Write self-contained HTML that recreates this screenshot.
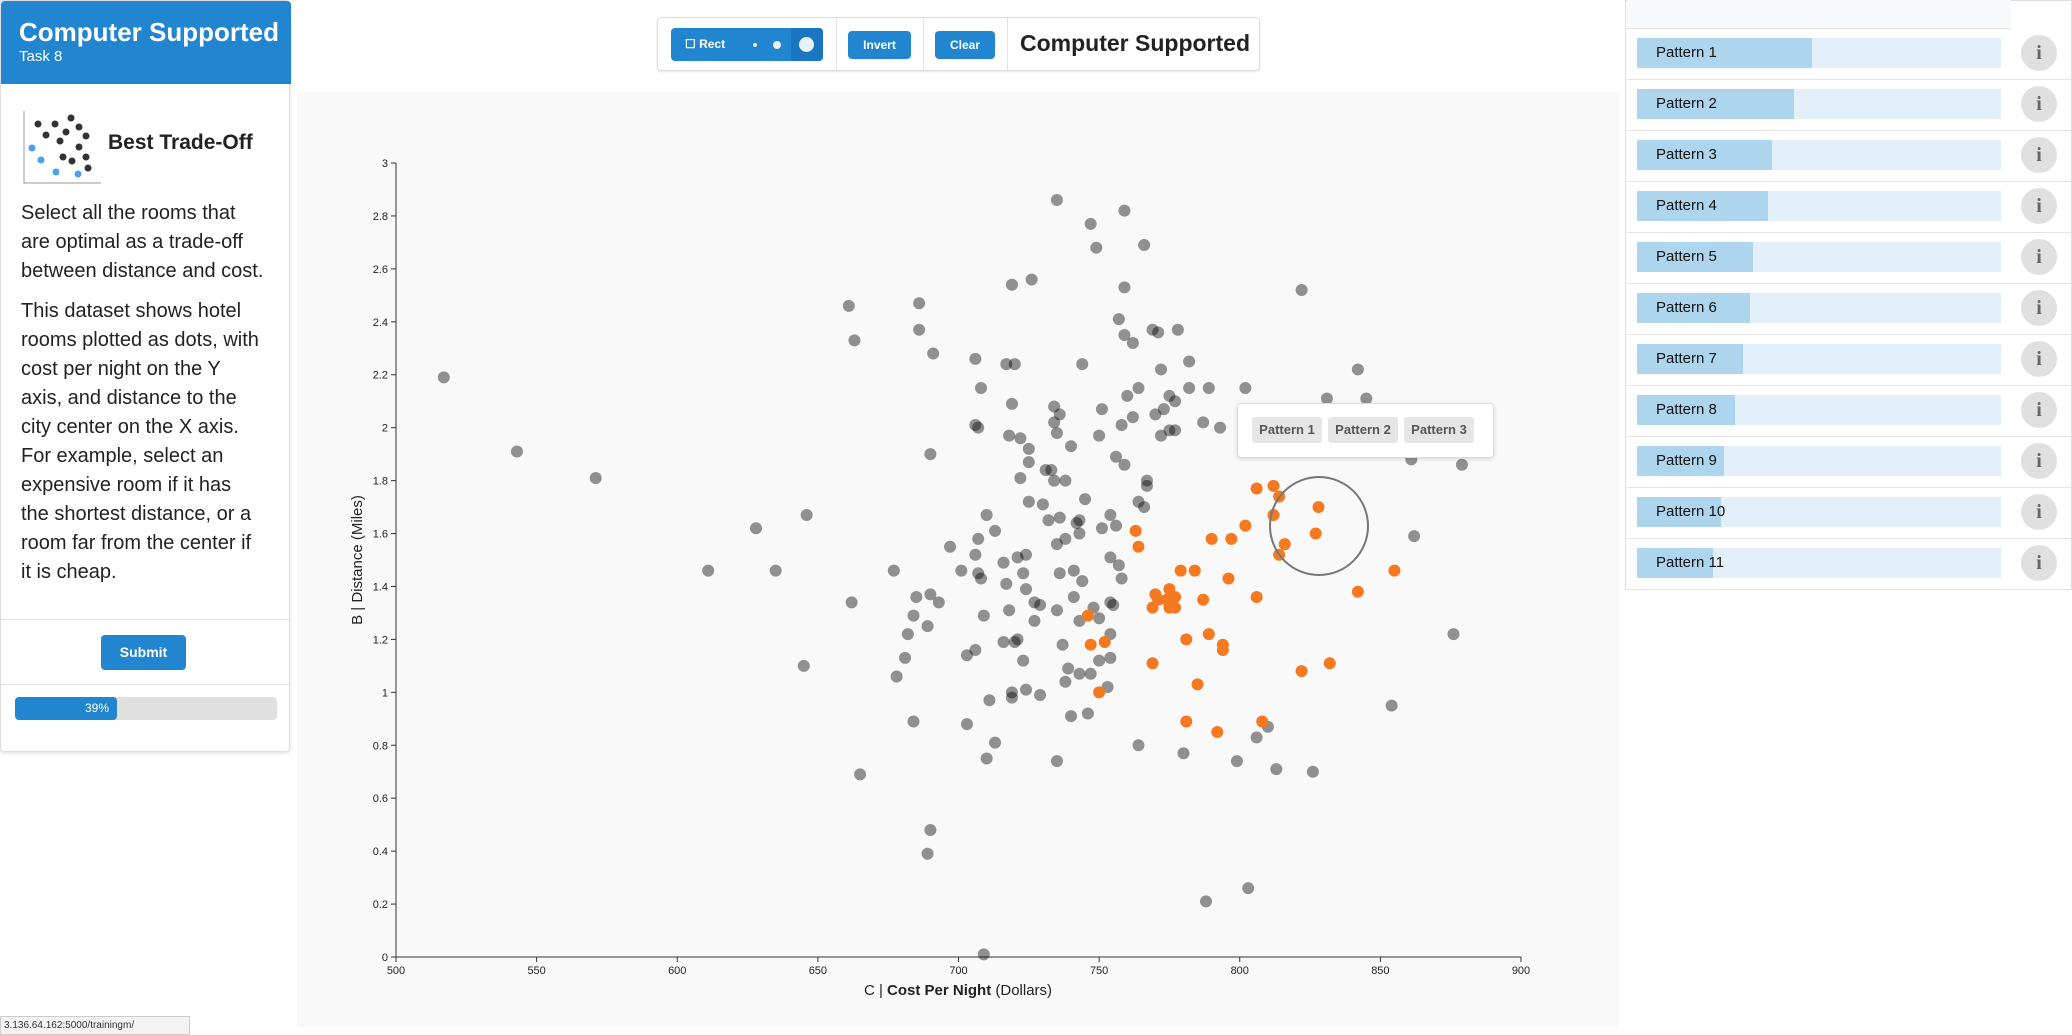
<!DOCTYPE html>
<html><head><meta charset="utf-8">
<style>
*{box-sizing:border-box;margin:0;padding:0}
body{width:2072px;height:1035px;overflow:hidden;background:#fff;font-family:"Liberation Sans",sans-serif;position:relative;color:#222}
.abs{position:absolute}
#left{left:0;top:0;width:290px;height:752px;border:1px solid #ddd;border-radius:4px;box-shadow:0 1px 3px rgba(0,0,0,.15);background:#fff}
#lhead{left:0;top:0;width:290px;height:83px;background:#2185d0;border-radius:4px 4px 0 0;color:#fff}
.btn{background:#2185d0;color:#fff;border-radius:4px;font-weight:bold;text-align:center}
.row{left:1627px;width:445px;height:51px;border-bottom:1px solid #e4e4e4}
.bar{left:10px;top:9px;width:364px;height:30px;background:#e3f0f9}
.fill{left:0;top:0;height:30px;background:#aed5ee}
.lbl{left:19px;top:6px;font-size:15px;color:#111}
.info{left:394px;top:6px;width:36px;height:36px;border-radius:50%;background:#e0e0e0;color:#666;font-weight:bold;font-family:"Liberation Serif",serif;font-size:20px;text-align:center;line-height:36px}
.pbtn{background:#e6e6e6;border-radius:3px;color:#555;font-size:13px;font-weight:bold;text-align:center;line-height:26px;height:26px;top:13px}
</style></head><body>
<div id="left" class="abs">
 <div id="lhead" class="abs">
  <div class="abs" style="left:18px;top:16px;font-size:26px;font-weight:bold">Computer Supported</div>
  <div class="abs" style="left:18px;top:47px;font-size:15px">Task 8</div>
 </div>
 <svg class="abs" style="left:20px;top:105px" width="82" height="80">
  <path d="M3 5V77H80" stroke="#999" fill="none" stroke-width="1"/>
  <g fill="#333"><circle cx="17" cy="18" r="3.5"/><circle cx="34" cy="18" r="3.5"/><circle cx="50" cy="12" r="3.5"/><circle cx="25" cy="29" r="3.5"/><circle cx="45" cy="26" r="3.5"/><circle cx="58" cy="21" r="3.5"/><circle cx="39" cy="35" r="3.5"/><circle cx="65" cy="30" r="3.5"/><circle cx="58" cy="41" r="3.5"/><circle cx="42" cy="51" r="3.5"/><circle cx="51" cy="55" r="3.5"/><circle cx="65" cy="51" r="3.5"/><circle cx="67" cy="62" r="3.5"/></g>
  <g fill="#4aa3ec"><circle cx="11" cy="42" r="3.5"/><circle cx="20" cy="54" r="3.5"/><circle cx="35" cy="66" r="3.5"/><circle cx="57" cy="68" r="3.5"/></g>
 </svg>
 <div class="abs" style="left:107px;top:130px;font-size:21px;font-weight:bold">Best Trade-Off</div>
 <div class="abs" style="left:20px;top:198px;font-size:20px;line-height:29px;color:#222">Select all the rooms that<br>are optimal as a trade-off<br>between distance and cost.</div>
 <div class="abs" style="left:20px;top:296px;font-size:20px;line-height:29px;color:#222">This dataset shows hotel<br>rooms plotted as dots, with<br>cost per night on the Y<br>axis, and distance to the<br>city center on the X axis.<br>For example, select an<br>expensive room if it has<br>the shortest distance, or a<br>room far from the center if<br>it is cheap.</div>
 <div class="abs" style="left:0;top:618px;width:288px;border-top:1px solid #e4e4e4"></div>
 <div class="abs btn" style="left:100px;top:634px;width:85px;height:35px;line-height:35px;font-size:14px">Submit</div>
 <div class="abs" style="left:0;top:683px;width:288px;border-top:1px solid #e4e4e4"></div>
 <div class="abs" style="left:14px;top:696px;width:262px;height:23px;background:#e0e0e0;border-radius:4px">
  <div class="abs" style="left:0;top:0;width:102px;height:23px;background:#2185d0;border-radius:4px;color:#fff;font-size:12px;text-align:right;padding-right:8px;line-height:23px">39%</div>
 </div>
</div>
<div class="abs" style="left:0;top:1016px;width:190px;height:19px;background:#f3f3f3;border:1px solid #ccc;font-size:10px;line-height:17px;padding-left:3px;color:#333">3.136.64.162:5000/trainingm/</div>

<div class="abs" style="left:297px;top:92px;width:1322px;height:935px;background:#f9f9f9"></div>

<div class="abs" style="left:657px;top:17px;width:603px;height:54px;border:1px solid #ddd;border-radius:4px;background:#fff;box-shadow:0 1px 2px rgba(0,0,0,.1)">
 <div class="abs btn" style="left:13px;top:10px;width:152px;height:33px;font-size:12px;line-height:33px;text-align:left;padding-left:14px">☐ Rect</div>
 <div class="abs" style="left:95px;top:25px;width:4px;height:4px;border-radius:50%;background:#e8f1fa"></div>
 <div class="abs" style="left:115px;top:23px;width:8px;height:8px;border-radius:50%;background:#e8f1fa"></div>
 <div class="abs" style="left:133px;top:10px;width:32px;height:33px;background:#1a76c0;border-radius:0 4px 4px 0"><div class="abs" style="left:8px;top:9px;width:15px;height:15px;border-radius:50%;background:#e8f1fa"></div></div>
 <div class="abs" style="left:178px;top:0;height:52px;border-left:1px solid #e4e4e4"></div>
 <div class="abs btn" style="left:190px;top:13px;width:63px;height:28px;line-height:28px;font-size:12px">Invert</div>
 <div class="abs" style="left:265px;top:0;height:52px;border-left:1px solid #e4e4e4"></div>
 <div class="abs btn" style="left:277px;top:13px;width:60px;height:28px;line-height:28px;font-size:12px">Clear</div>
 <div class="abs" style="left:349px;top:0;height:52px;border-left:1px solid #e4e4e4"></div>
 <div class="abs" style="left:362px;top:12px;font-size:23px;font-weight:bold;color:#222;white-space:nowrap">Computer Supported</div>
</div>

<svg id="chart" class="abs" style="left:0;top:0" width="1625" height="1035"></svg>

<div class="abs" style="left:1237px;top:403px;width:257px;height:55px;background:#fff;border:1px solid #ddd;border-radius:4px;box-shadow:0 1px 4px rgba(0,0,0,.15)">
 <div class="abs pbtn" style="left:14px;width:70px">Pattern 1</div>
 <div class="abs pbtn" style="left:90px;width:70px">Pattern 2</div>
 <div class="abs pbtn" style="left:166px;width:70px">Pattern 3</div>
</div>

<div class="abs" style="left:1625px;top:0;width:447px;height:590px;border:1px solid #ddd;border-bottom:1px solid #ddd"></div>
<div class="abs" style="left:1627px;top:0;width:384px;height:29px;background:#f8f9fa;border-bottom:1px solid #e4e4e4"></div>
<div id="rows"></div>

<script>
const grayX=[517,543,571,611,628,635,646,645,662,665,661,663,677,678,681,682,684,685,684,686,686,691,690,689,690,690,693,689,697,701,703,703,706,706,708,706,707,707,706,710,708,709,707,711,713,713,710,709,717,720,719,726,719,718,716,717,718,716,719,719,722,725,722,725,725,730,724,721,723,724,727,729,727,720,721,723,724,729,734,734,736,735,731,733,734,738,732,736,738,735,736,735,735,740,743,742,743,745,741,744,741,737,738,735,739,740,746,747,749,759,766,759,757,759,762,744,760,758,756,759,750,751,762,764,769,771,778,772,775,777,773,782,782,772,775,777,789,787,793,770,767,767,764,766,754,756,751,754,758,757,754,755,750,747,750,743,743,748,754,754,753,764,780,799,806,810,813,826,803,788,854,876,862,879,861,848,845,842,831,822,802];
const grayY=[2.19,1.91,1.81,1.46,1.62,1.46,1.67,1.10,1.34,0.69,2.46,2.33,1.46,1.06,1.13,1.22,1.29,1.36,0.89,2.47,2.37,2.28,0.48,0.39,1.90,1.37,1.34,1.25,1.55,1.46,0.88,1.14,1.16,2.26,2.15,2.01,2.00,1.58,1.52,1.67,1.43,1.29,1.45,0.97,1.61,0.81,0.75,0.01,2.24,2.24,2.54,2.56,2.09,1.97,1.49,1.41,1.31,1.19,1.00,0.98,1.96,1.92,1.81,1.87,1.72,1.71,1.52,1.51,1.45,1.39,1.27,1.33,1.34,1.19,1.20,1.12,1.01,0.99,2.02,2.08,2.05,1.98,1.84,1.84,1.80,1.80,1.65,1.66,1.58,1.56,1.45,1.31,2.86,1.93,1.65,1.64,1.60,1.73,1.46,1.42,1.36,1.18,1.04,0.74,1.09,0.91,0.92,2.77,2.68,2.82,2.69,2.53,2.41,2.35,2.32,2.24,2.12,2.01,1.89,1.86,1.97,2.07,2.04,2.15,2.37,2.36,2.37,2.22,2.12,2.10,2.07,2.25,2.15,1.97,1.99,1.99,2.15,2.02,2.00,2.05,1.80,1.78,1.72,1.70,1.67,1.63,1.62,1.51,1.43,1.48,1.34,1.33,1.28,1.07,1.12,1.27,1.07,1.32,1.22,1.13,1.02,0.80,0.77,0.74,0.83,0.87,0.71,0.70,0.26,0.21,0.95,1.22,1.59,1.86,1.88,1.94,2.11,2.22,2.11,2.52,2.15];
const orangeX=[763,764,746,747,752,750,770,771,769,775,777,774,775,777,779,784,769,781,787,789,794,794,785,781,792,808,790,797,796,806,802,806,812,814,812,828,827,814,816,822,832,842,855];
const orangeY=[1.61,1.55,1.29,1.18,1.19,1.00,1.37,1.35,1.32,1.39,1.36,1.35,1.32,1.32,1.46,1.46,1.11,1.20,1.35,1.22,1.18,1.16,1.03,0.89,0.85,0.89,1.58,1.58,1.43,1.36,1.63,1.77,1.78,1.74,1.67,1.70,1.60,1.52,1.56,1.08,1.11,1.38,1.46];
const xTicks=[500,550,600,650,700,750,800,850,900];
const yTicks=[0,0.2,0.4,0.6,0.8,1,1.2,1.4,1.6,1.8,2,2.2,2.4,2.6,2.8,3];
const patternNames=["Pattern 1","Pattern 2","Pattern 3","Pattern 4","Pattern 5","Pattern 6","Pattern 7","Pattern 8","Pattern 9","Pattern 10","Pattern 11"];
const patternScores=[0.48,0.43,0.37,0.36,0.32,0.31,0.29,0.27,0.24,0.23,0.21];

const X0=396,X1=1521,Y0=957,Y1=163;
const sx=v=>X0+(v-500)/400*(X1-X0);
const sy=v=>Y0-(v/3)*(Y0-Y1);
const NS="http://www.w3.org/2000/svg";
const svg=document.getElementById('chart');
function mk(t,a){const e=document.createElementNS(NS,t);for(const k in a)e.setAttribute(k,a[k]);svg.appendChild(e);return e;}
let e;
e=mk('line',{x1:X0,y1:Y0,x2:X1,y2:Y0,stroke:'#333'});


e=mk('line',{x1:X0,y1:Y0,x2:X0,y2:Y1,stroke:'#333'});


xTicks.forEach(v=>{mk('line',{x1:sx(v),y1:Y0,x2:sx(v),y2:Y0+5,stroke:'#333'});
 e=mk('text',{x:sx(v),y:Y0+17,'font-size':11,'text-anchor':'middle',fill:'#222'});e.textContent=v;
 
 });
yTicks.forEach(v=>{mk('line',{x1:X0-5,y1:sy(v),x2:X0,y2:sy(v),stroke:'#333'});
 e=mk('text',{x:X0-8,y:sy(v)+4,'font-size':11,'text-anchor':'end',fill:'#222'});e.textContent=+v.toFixed(1);
 
 });
e=mk('text',{x:362,y:560,'font-size':15,'text-anchor':'middle',transform:'rotate(-90 362 560)',fill:'#222'});
e.innerHTML='B | Distance (Miles)';


e=mk('text',{x:958,y:995,'font-size':15,'text-anchor':'middle',fill:'#222'});
e.innerHTML='C | <tspan font-weight="bold">Cost Per Night</tspan> (Dollars)';


grayX.forEach((v,i)=>{e=mk('circle',{cx:sx(v),cy:sy(grayY[i]),r:6,fill:'#000','fill-opacity':0.42});
 
 });
orangeX.forEach((v,i)=>{e=mk('circle',{cx:sx(v),cy:sy(orangeY[i]),r:6,fill:'#f47920'});
 
 });
e=mk('circle',{cx:1319,cy:526,r:49,fill:'none',stroke:'#777','stroke-width':2});



const rows=document.getElementById('rows');
patternNames.forEach((n,i)=>{
 const r=document.createElement('div');r.className='abs row';r.style.top=(29+i*51)+'px';
 
 
 r.innerHTML='<div class="abs bar"><div class="abs fill" style="width:'+Math.round(patternScores[i]*364)+'px"></div><div class="abs lbl">'+n+'</div></div><div class="abs info">i</div>';
 const inf=r.querySelector('.info');
 
 
 rows.appendChild(r);
});
</script>
</body></html>
